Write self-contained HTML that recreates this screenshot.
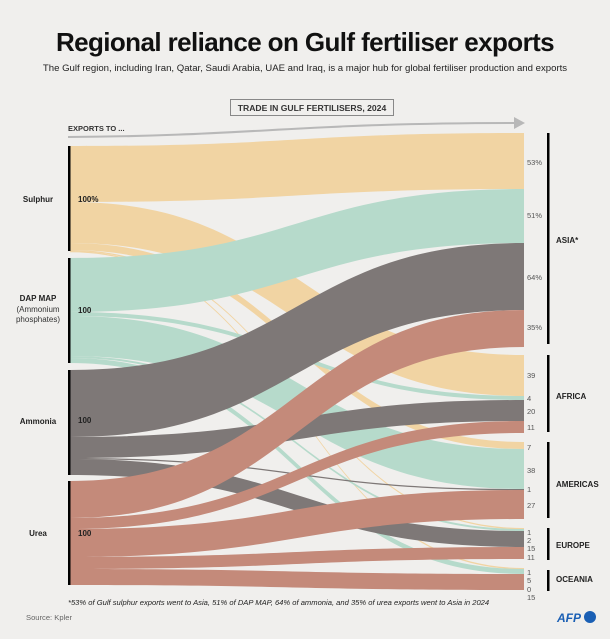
<!DOCTYPE html>
<html><head><meta charset="utf-8"><style>
body{margin:0;background:#f0efed;}
svg{display:block;font-family:"Liberation Sans",sans-serif;}
</style></head><body>
<svg width="610" height="639" viewBox="0 0 610 639">
<rect width="610" height="639" fill="#f0efed"/>
<text x="305" y="51" text-anchor="middle" font-size="26" font-weight="bold" fill="#111" letter-spacing="-0.6">Regional reliance on Gulf fertiliser exports</text>
<text x="305" y="71" text-anchor="middle" font-size="9.6" fill="#222">The Gulf region, including Iran, Qatar, Saudi Arabia, UAE and Iraq, is a major hub for global fertiliser production and exports</text>
<rect x="230.5" y="99.5" width="163" height="16" fill="none" stroke="#888" stroke-width="1"/>
<text x="312" y="111" text-anchor="middle" font-size="8.6" font-weight="bold" fill="#333">TRADE IN GULF FERTILISERS, 2024</text>
<text x="68" y="131" font-size="7.5" font-weight="bold" fill="#333">EXPORTS TO ...</text>
<path d="M68,137 C250,136 300,123 515,123" stroke="#b8b8b8" stroke-width="2" fill="none"/>
<polygon points="514,117 525,123 514,129" fill="#b8b8b8"/>
<g opacity="0.78">
<g fill="#f2cd8f">
<path d="M70,146 C297,146 297,133 524,133 L524,189 C297,189 297,202 70,202Z"/>
<path d="M70,202 C297,202 297,355 524,355 L524,396 C297,396 297,243 70,243Z"/>
<path d="M70,243 C297,243 297,442 524,442 L524,449 C297,449 297,250 70,250Z"/>
<path d="M70,250 C297,250 297,528 524,528 L524,529.3 C297,529.3 297,251.3 70,251.3Z"/>
<path d="M70,251 C297,251 297,568 524,568 L524,569.3 C297,569.3 297,252.3 70,252.3Z"/>
</g>
<g fill="#a6d5c2">
<path d="M70,258 C297,258 297,189 524,189 L524,243 C297,243 297,312 70,312Z"/>
<path d="M70,312 C297,312 297,396 524,396 L524,400 C297,400 297,316 70,316Z"/>
<path d="M70,316 C297,316 297,449 524,449 L524,489 C297,489 297,356 70,356Z"/>
<path d="M70,356 C297,356 297,529 524,529 L524,531 C297,531 297,358 70,358Z"/>
<path d="M70,358 C297,358 297,569 524,569 L524,574 C297,574 297,363 70,363Z"/>
</g>
<g fill="#5f5756">
<path d="M70,370 C297,370 297,243 524,243 L524,310 C297,310 297,437 70,437Z"/>
<path d="M70,437 C297,437 297,400 524,400 L524,421 C297,421 297,458 70,458Z"/>
<path d="M70,458 C297,458 297,489 524,489 L524,490.3 C297,490.3 297,459.3 70,459.3Z"/>
<path d="M70,459 C297,459 297,531 524,531 L524,547 C297,547 297,475 70,475Z"/>
</g>
<g fill="#b86e5b">
<path d="M70,481 C297,481 297,310 524,310 L524,347 C297,347 297,518 70,518Z"/>
<path d="M70,518 C297,518 297,421 524,421 L524,433 C297,433 297,529 70,529Z"/>
<path d="M70,529 C297,529 297,490 524,490 L524,519 C297,519 297,557 70,557Z"/>
<path d="M70,557 C297,557 297,547 524,547 L524,559 C297,559 297,569 70,569Z"/>
<path d="M70,569 C297,569 297,574 524,574 L524,590 C297,590 297,585 70,585Z"/>
</g>
</g>
<g fill="#000">
<rect x="68" y="146" width="2.5" height="105"/>
<rect x="68" y="258" width="2.5" height="105"/>
<rect x="68" y="370" width="2.5" height="105"/>
<rect x="68" y="481" width="2.5" height="104"/>
<rect x="547" y="133" width="2.5" height="211"/>
<rect x="547" y="355" width="2.5" height="77"/>
<rect x="547" y="442" width="2.5" height="76"/>
<rect x="547" y="528" width="2.5" height="32"/>
<rect x="547" y="570" width="2.5" height="21"/>
</g>
<g font-size="8" font-weight="bold" fill="#222" text-anchor="middle">
<text x="38" y="202">Sulphur</text>
<text x="38" y="301">DAP MAP</text>
<text x="38" y="424">Ammonia</text>
<text x="38" y="536">Urea</text>
</g>
<g font-size="8" fill="#333" text-anchor="middle">
<text x="38" y="312">(Ammonium</text>
<text x="38" y="322">phosphates)</text>
</g>
<g font-size="8" font-weight="bold" fill="#222">
<text x="78" y="202">100%</text>
<text x="78" y="313">100</text>
<text x="78" y="423">100</text>
<text x="78" y="536">100</text>
<text x="556" y="243">ASIA*</text>
<text x="556" y="399">AFRICA</text>
<text x="556" y="487">AMERICAS</text>
<text x="556" y="548">EUROPE</text>
<text x="556" y="582">OCEANIA</text>
</g>
<g font-size="7.5" fill="#555">
<text x="527" y="165">53%</text>
<text x="527" y="218">51%</text>
<text x="527" y="280">64%</text>
<text x="527" y="330">35%</text>
<text x="527" y="378">39</text>
<text x="527" y="401">4</text>
<text x="527" y="414">20</text>
<text x="527" y="430">11</text>
<text x="527" y="450">7</text>
<text x="527" y="473">38</text>
<text x="527" y="492">1</text>
<text x="527" y="508">27</text>
<text x="527" y="535">1</text>
<text x="527" y="543">2</text>
<text x="527" y="551">15</text>
<text x="527" y="560">11</text>
<text x="527" y="575">1</text>
<text x="527" y="583">5</text>
<text x="527" y="592">0</text>
<text x="527" y="600">15</text>
</g>
<text x="68" y="605" font-size="7.6" font-style="italic" fill="#222">*53% of Gulf sulphur exports went to Asia, 51% of DAP MAP, 64% of ammonia, and 35% of urea exports went to Asia in 2024</text>
<text x="26" y="620" font-size="7.6" fill="#666">Source: Kpler</text>
<text x="557" y="622" font-size="12" font-weight="bold" font-style="italic" fill="#1a5fb4">AFP</text>
<circle cx="590" cy="617" r="6" fill="#1a5fb4"/>
</svg>
</body></html>
